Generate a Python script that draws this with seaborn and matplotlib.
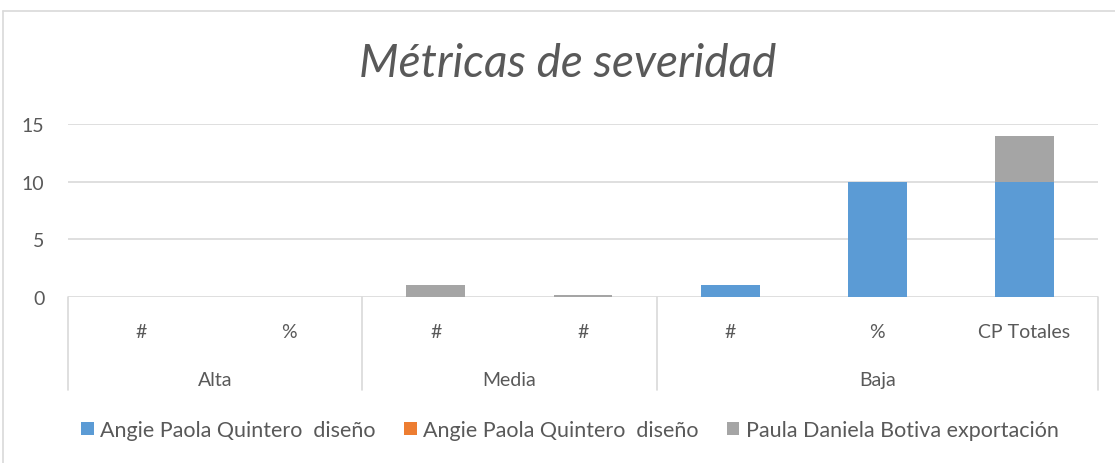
import numpy as np
import pandas as pd
import matplotlib
matplotlib.use("Agg")
import matplotlib.pyplot as plt
from matplotlib.patches import Patch
from matplotlib.transforms import blended_transform_factory
import seaborn as sns

# Chart data
groups = ["Alta", "Media", "Baja"]
group_sizes = [2, 2, 3]
subcategories = ["#", "%", "#", "#", "#", "%", "CP Totales"]
series_names = ["Angie Paola Quintero  diseño",
                "Angie Paola Quintero  diseño",
                "Paula Daniela Botiva exportación"]
blue_vals = [0, 0, 0, 0, 1, 10, 10]
orange_vals = [0, 0, 0, 0, 0, 0, 0]
gray_vals = [0, 0, 1, 0.2, 0, 0, 4]
y_ticks = [0, 5, 10, 15]

colors = ["#5b9bd5", "#ed7d31", "#a5a5a5"]
text_color = "#595959"
grid_color = "#d9d9d9"

sns.set_theme(style="white")
plt.rcParams["font.family"] = ["Lato", "DejaVu Sans"]

slots = [f"s{i}" for i in range(len(subcategories))]
df = pd.DataFrame({
    "slot": slots,
    "blue": blue_vals,
    "orange": orange_vals,
    "gray": gray_vals,
})
# cumulative stack tops, drawn back to front
df["top_orange"] = df["blue"] + df["orange"]
df["top_gray"] = df["top_orange"] + df["gray"]

fig = plt.figure(figsize=(11.15, 4.64), dpi=100)
ax = fig.add_axes([68 / 1115, 1 - 298 / 464, (1098 - 68) / 1115, (298 - 125) / 464])

for col, c in zip(["top_gray", "top_orange", "blue"], colors[::-1]):
    sns.barplot(data=df, x="slot", y=col, order=slots, color=c, width=0.4,
                saturation=1, edgecolor="none", linewidth=0, ax=ax, zorder=3)

ax.set_xlim(-0.5, len(slots) - 0.5)
ax.set_ylim(0, 15)
ax.set_yticks(y_ticks)
ax.set_yticklabels([str(t) for t in y_ticks], color=text_color, fontsize=14)
ax.tick_params(axis="y", length=0, pad=17)
ax.set_xticks([])
ax.set_xlabel("")
ax.set_ylabel("")
for s in ax.spines.values():
    s.set_visible(False)
for t in y_ticks:
    ax.axhline(t, color=grid_color, linewidth=1.2, zorder=1)

# two-tier category axis
trans = blended_transform_factory(ax.transData, ax.transAxes)
for i, lab in enumerate(subcategories):
    ax.text(i, -0.202, lab, transform=trans, ha="center", va="center",
            color=text_color, fontsize=14)
bounds = [-0.5]
for n in group_sizes:
    bounds.append(bounds[-1] + n)
for g, a, b in zip(groups, bounds[:-1], bounds[1:]):
    ax.text((a + b) / 2, -0.474, g, transform=trans, ha="center", va="center",
            color=text_color, fontsize=14)
for x in bounds:
    ax.plot([x, x], [0, -0.535], transform=trans, color=grid_color,
            linewidth=1.2, clip_on=False)

# title
fig.text(0.509, 1 - 64 / 464, "Métricas de severidad", ha="center", va="center",
         fontsize=33, style="italic", color=text_color)

# legend
handles = [Patch(facecolor=c, edgecolor="none") for c in colors]
fig.legend(handles, series_names, loc="center", ncol=3,
           bbox_to_anchor=(0.511, 1 - 431 / 464), frameon=False,
           handlelength=0.6, handleheight=0.6, handletextpad=0.3,
           columnspacing=1.3, fontsize=15.5, labelcolor=text_color)

# outer chart border (left and top edges)
fig.add_artist(plt.Line2D([3 / 1115, 3 / 1115], [0, 1 - 12 / 464],
                          transform=fig.transFigure, color=grid_color, linewidth=1.2))
fig.add_artist(plt.Line2D([3 / 1115, 1], [1 - 12 / 464, 1 - 12 / 464],
                          transform=fig.transFigure, color=grid_color, linewidth=1.2))

fig.savefig("out.png", dpi=100, facecolor="white")
